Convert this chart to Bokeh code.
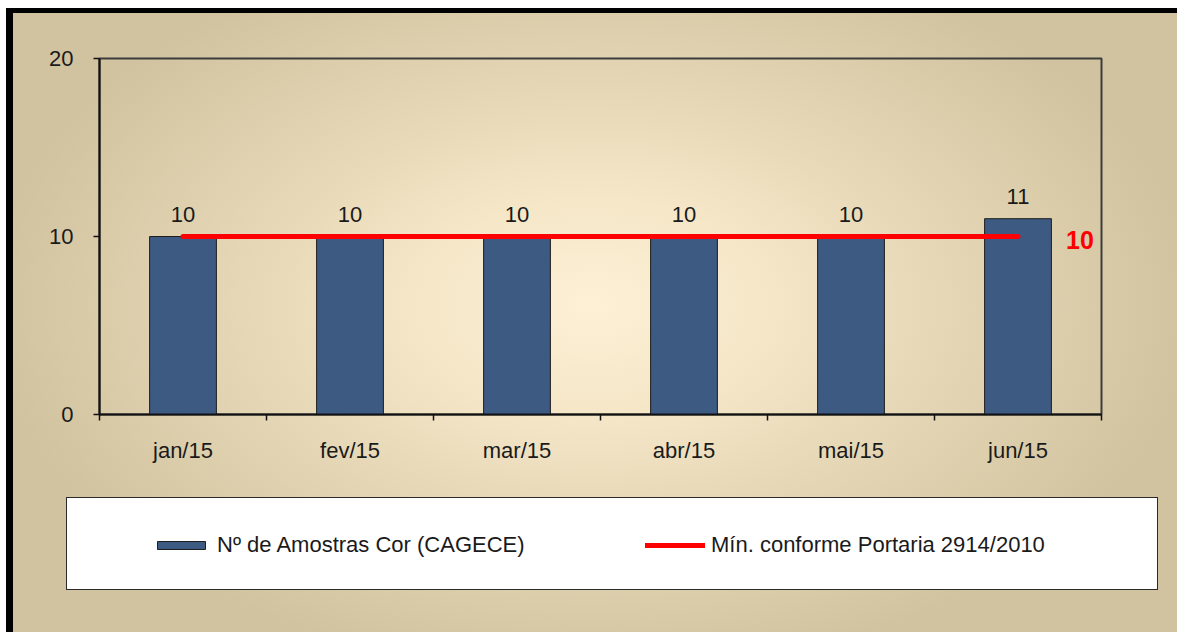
from bokeh.plotting import figure
from bokeh.layouts import column
from bokeh.models import (FixedTicker, Legend, LegendItem, Range1d,
                          ColumnDataSource)
from bokeh.core.properties import value
from bokeh.embed import file_html
from bokeh.resources import INLINE

# ---- data ----
months = ["jan/15", "fev/15", "mar/15", "abr/15", "mai/15", "jun/15"]
amostras = [10, 10, 10, 10, 10, 11]
minimo = [10, 10, 10, 10, 10, 10]
y_ticks = [0, 10, 20]
serie_bar = "Nº de Amostras Cor (CAGECE)"
serie_line = "Mín. conforme Portaria 2914/2010"

xs = list(range(len(months)))
FONT = "Liberation Sans"
FS = "22px"
BAR_FILL = "#3C5A82"
BAR_LINE = "#1E1E1E"
RED = "#FF0000"

src = ColumnDataSource(dict(x=xs, amostras=amostras, minimo=minimo,
                            lab=[str(v) for v in amostras]))

W = 1177
H1, H2 = 498, 134

# ---------------- main chart ----------------
p = figure(width=W, height=H1, output_backend="svg", toolbar_location=None,
           x_range=Range1d(-0.5, len(months) - 0.5), y_range=Range1d(0, 20),
           min_border_left=99, min_border_right=76, min_border_top=58,
           min_border_bottom=84)
p.background_fill_color = None
p.border_fill_color = None
p.outline_line_color = "#3c3c3c"
p.outline_line_width = 2
p.grid.visible = False

bars = p.vbar(x="x", top="amostras", width=0.4, source=src,
              fill_color=BAR_FILL, line_color=BAR_LINE, line_width=1)
line = p.line(x="x", y="minimo", source=src, line_color=RED,
              line_width=5, line_cap="round")

p.text(x="x", y="amostras", text="lab", source=src, text_align="center",
       text_baseline="alphabetic", y_offset=-22,
       text_font=value(FONT), text_font_size=FS, text_color="#1a1a1a")

p.text(x=[xs[-1]], y=[minimo[-1]], text=[str(minimo[-1])], x_offset=48,
       y_offset=3, text_align="left", text_baseline="middle",
       text_font=value(FONT), text_font_style="bold", text_font_size="25px",
       text_color=RED)

xa = p.xaxis[0]
xa.ticker = FixedTicker(ticks=xs, minor_ticks=[i - 0.5 for i in range(len(months) + 1)])
xa.major_label_overrides = {i: m for i, m in enumerate(months)}
xa.major_tick_line_color = None
xa.major_tick_out = 6
xa.major_tick_in = 0
xa.minor_tick_out = 6
xa.minor_tick_in = 0
xa.minor_tick_line_color = "#111111"
xa.minor_tick_line_width = 1.5
xa.axis_line_color = "#111111"
xa.axis_line_width = 2
xa.major_label_standoff = 17
xa.major_label_text_font = FONT
xa.major_label_text_font_size = FS
xa.major_label_text_color = "#1a1a1a"

ya = p.yaxis[0]
ya.ticker = FixedTicker(ticks=y_ticks)
ya.minor_tick_line_color = None
ya.major_tick_out = 6
ya.major_tick_in = 0
ya.major_tick_line_color = "#111111"
ya.major_tick_line_width = 1.5
ya.axis_line_color = "#111111"
ya.axis_line_width = 2
ya.major_label_standoff = 20
ya.major_label_text_font = FONT
ya.major_label_text_font_size = FS
ya.major_label_text_color = "#1a1a1a"

# ---------------- legend panel ----------------
lp = figure(width=W, height=H2, output_backend="svg", toolbar_location=None,
            x_axis_type=None, y_axis_type=None,
            min_border_left=99, min_border_right=76, min_border_top=0,
            min_border_bottom=43)
lp.background_fill_color = None
lp.border_fill_color = None
lp.outline_line_color = None
lp.grid.visible = False

lbars = lp.vbar(x="x", top="amostras", width=0.4, source=src,
                fill_color=BAR_FILL, line_color=BAR_LINE, line_width=1,
                visible=False)
lline = lp.line(x="x", y="minimo", source=src, line_color=RED,
                line_width=5, line_cap="round", visible=False)

legend = Legend(items=[LegendItem(label=serie_bar, renderers=[lbars]),
                       LegendItem(label=serie_line, renderers=[lline])],
                location=(52, 29), orientation="horizontal",
                glyph_width=60, glyph_height=10, label_standoff=6,
                label_width=380, label_height=30, spacing=48,
                padding=0, margin=0, border_line_color=None,
                background_fill_alpha=0,
                label_text_font=FONT, label_text_font_size=FS,
                label_text_color="#1a1a1a")
lp.add_layout(legend, "center")

layout = column(p, lp, spacing=0)
layout.styles = {
    "background": ", ".join([
        "linear-gradient(#fff,#fff) 0px 0px / 100% 8px no-repeat",
        "linear-gradient(#fff,#fff) 0px 0px / 6px 100% no-repeat",
        "linear-gradient(#000,#000) 6px 8px / 100% 5px no-repeat",
        "linear-gradient(#000,#000) 6px 8px / 7px 100% no-repeat",
        "linear-gradient(#fff,#fff) 67px 498px / 1090px 91px no-repeat",
        "linear-gradient(#2a2a2a,#2a2a2a) 66px 497px / 1092px 93px no-repeat",
        "radial-gradient(ellipse 600px 370px at 592px 305px, "
        "#FDF0D5 0%, #F5E7C8 28%, #E4D6B4 62%, #D1C39F 100%)",
    ])
}

open("out.html", "w").write(file_html(layout, INLINE))
